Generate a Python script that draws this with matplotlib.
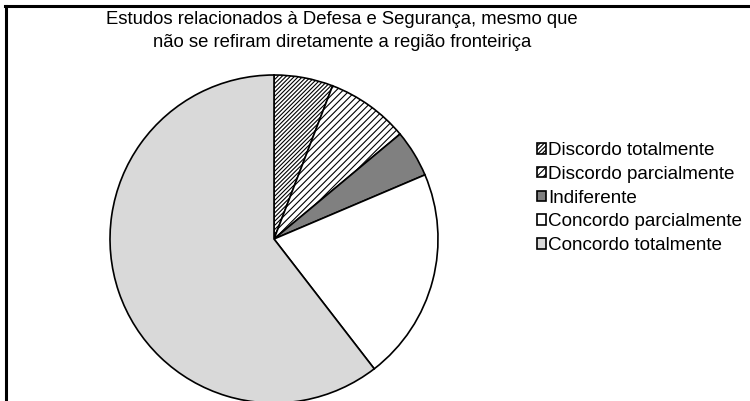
import matplotlib.pyplot as plt
from matplotlib.lines import Line2D

labels = [
    "Discordo totalmente",
    "Discordo parcialmente",
    "Indiferente",
    "Concordo parcialmente",
    "Concordo totalmente",
]
counts = [5, 7, 4, 18, 52]
colors = ["white", "white", "#808080", "white", "#d9d9d9"]
hatches = ["////////", "/////", "", "", ""]
title = ("Estudos relacionados à Defesa e Segurança, mesmo que\n"
         "não se refiram diretamente a região fronteiriça")

plt.rcParams["font.family"] = ["Liberation Sans", "DejaVu Sans"]
plt.rcParams["hatch.linewidth"] = 0.8

W, H = 750, 401
fig = plt.figure(figsize=(W / 100, H / 100), dpi=100)
ax = fig.add_axes([0, 0, 1, 1])

wedges, _ = ax.pie(
    counts,
    colors=colors,
    startangle=90,
    counterclock=False,
    center=(274, H - 239),
    radius=164,
    frame=True,
    wedgeprops=dict(edgecolor="black", linewidth=1.2),
)
for w, h in zip(wedges, hatches):
    if h:
        w.set_hatch(h)

ax.set_xlim(0, W)
ax.set_ylim(0, H)
ax.axis("off")

fig.text(342 / W, 1 - 11 / H, title, ha="center", va="top",
         fontsize=13.3, linespacing=1.45)

ax.legend(
    wedges, labels,
    loc="upper left",
    bbox_to_anchor=(537 / W, 1 - 142 / H),
    bbox_transform=fig.transFigure,
    frameon=False,
    fontsize=13.6,
    handlelength=0.5,
    handleheight=0.5,
    handletextpad=0.1,
    labelspacing=0.36,
    borderpad=0,
    borderaxespad=0,
)

# outer frame: only left and top edges are visible
fig.add_artist(Line2D([6 / W, 6 / W], [0, 1 - 6 / H],
                      transform=fig.transFigure, color="black", lw=2.2))
fig.add_artist(Line2D([5 / W, 1], [1 - 6 / H, 1 - 6 / H],
                      transform=fig.transFigure, color="black", lw=2.2))

fig.savefig("out.png", dpi=100)
